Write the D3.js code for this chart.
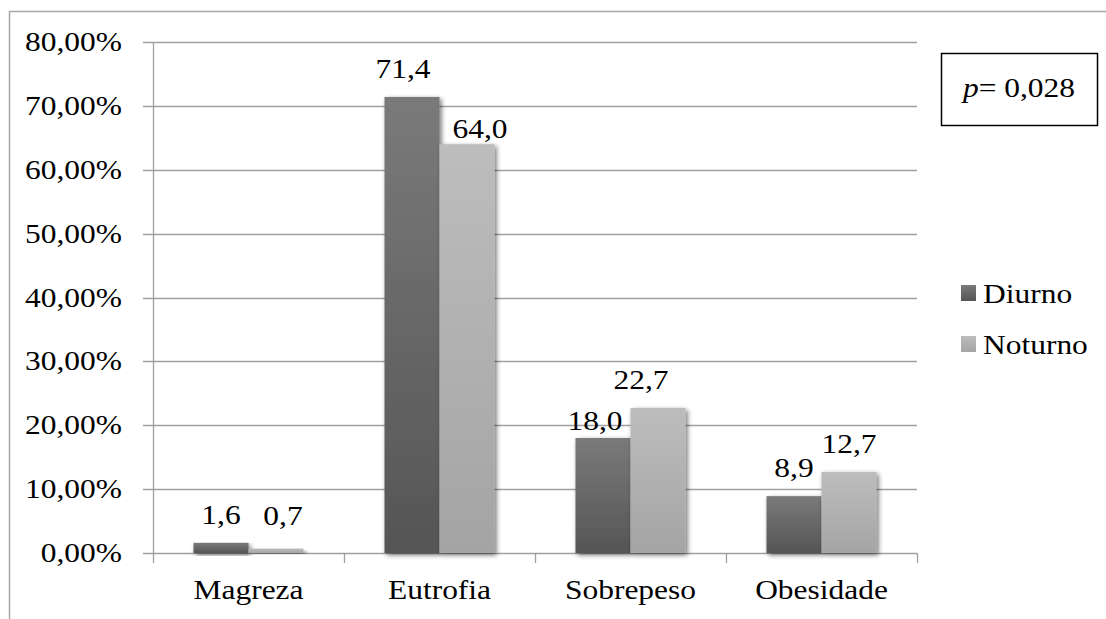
<!DOCTYPE html>
<html>
<head>
<meta charset="utf-8">
<script src="https://cdn.jsdelivr.net/npm/d3@7"></script>
<style>
  html, body { margin: 0; padding: 0; background: #fff; }
  svg { display: block; }
</style>
</head>
<body>
<svg id="chart" width="1106" height="619"></svg>
<script>
// Nutritional status by shift (percent)
const categories = ["Magreza", "Eutrofia", "Sobrepeso", "Obesidade"];
const seriesNames = ["Diurno", "Noturno"];
const diurno = [1.6, 71.4, 18.0, 8.9];
const noturno = [0.7, 64.0, 22.7, 12.7];
const yTicks = [0, 10, 20, 30, 40, 50, 60, 70, 80];
const pValue = "0,028";

// hand-placed label offsets (dx, dy) relative to the default spot above each bar
const labelNudge = {
  Diurno:  [[0, 0], [-9, 0], [-8, 11], [0, 0]],
  Noturno: [[7, -5], [13, 13], [-17, 0], [0, 0]]
};

const fmtTick = d => d3.format(".2f")(d).replace(".", ",") + "%";
const fmtVal = d => d3.format(".1f")(d).replace(".", ",");

// pick the first installed serif face from a preference list
const ctx = document.createElement("canvas").getContext("2d");
function installed(name) {
  const s = "Magreza 0123456789%";
  return ["monospace", "sans-serif"].every(fb => {
    ctx.font = `40px ${fb}`;
    const a = ctx.measureText(s).width;
    ctx.font = `40px "${name}", ${fb}`;
    return Math.abs(ctx.measureText(s).width - a) > 0.5;
  });
}
const serifCandidates = ["Liberation Serif", "Times New Roman", "Tinos", "Nimbus Roman", "Times", "DejaVu Serif"];
const FONT = serifCandidates.find(installed) || "serif";
const FAM = `"${FONT}", serif`;

// size from digit height, stretch from word width
ctx.font = `100px ${FAM}`;
const digitH = ctx.measureText("0").actualBoundingBoxAscent / 100;
const FS = 17.7 / digitH;
ctx.font = `${FS}px ${FAM}`;
const SX = 110 / ctx.measureText("Magreza").width;

const svg = d3.select("#chart").style("font-family", FAM);

const margin = { left: 153, right: 189, top: 42, bottom: 66 };
const W = 1106, H = 619;

const x0 = d3.scaleBand().domain(categories)
  .range([margin.left, W - margin.right]).paddingInner(0).paddingOuter(0);
const groupPad = 0.212;
const x1 = d3.scaleBand().domain(seriesNames)
  .range([x0.bandwidth() * groupPad, x0.bandwidth() * (1 - groupPad)]);
const y = d3.scaleLinear().domain([0, 80]).range([H - margin.bottom, margin.top]);

const defs = svg.append("defs");
function grad(id, top, bottom) {
  const g = defs.append("linearGradient").attr("id", id)
    .attr("x1", 0).attr("y1", 0).attr("x2", 0).attr("y2", 1);
  g.append("stop").attr("offset", "0%").attr("stop-color", top);
  g.append("stop").attr("offset", "100%").attr("stop-color", bottom);
}
grad("gDark", "#7a7a7a", "#555555");
grad("gLight", "#bdbdbd", "#a4a4a4");
const fill = { Diurno: "url(#gDark)", Noturno: "url(#gLight)" };

const sh = defs.append("filter").attr("id", "shadow")
  .attr("x", "-20%").attr("y", "-10%").attr("width", "140%").attr("height", "130%");
sh.append("feGaussianBlur").attr("in", "SourceAlpha").attr("stdDeviation", 2.5).attr("result", "b");
sh.append("feOffset").attr("in", "b").attr("dx", 1.5).attr("dy", 2).attr("result", "o");
sh.append("feComponentTransfer").attr("in", "o").attr("result", "s")
  .append("feFuncA").attr("type", "linear").attr("slope", 0.55);
const mg = sh.append("feMerge");
mg.append("feMergeNode").attr("in", "s");
mg.append("feMergeNode").attr("in", "SourceGraphic");

// outer chart-area frame
svg.append("path").attr("d", `M9.5,${H + 2} V11.5 H${W + 2}`)
  .attr("fill", "none").attr("stroke", "#a6a6a6").attr("stroke-width", 1.5);

// stretched text helper
function label(g, str, x, yy, anchor) {
  return g.append("text")
    .attr("transform", `translate(${x},${yy}) scale(${SX},1)`)
    .attr("text-anchor", anchor || "middle")
    .attr("font-family", FAM)
    .attr("font-size", FS)
    .attr("fill", "#000")
    .text(str);
}

// gridlines + y ticks
const grid = svg.append("g");
grid.selectAll("line").data(yTicks).join("line")
  .attr("x1", margin.left - 10).attr("x2", W - margin.right)
  .attr("y1", d => Math.round(y(d)) + 0.5).attr("y2", d => Math.round(y(d)) + 0.5)
  .attr("stroke", "#a0a0a0").attr("stroke-width", 1.3);

const yl = svg.append("g");
yTicks.forEach(d => label(yl, fmtTick(d), 122, y(d) + 9, "end"));

// y axis line
svg.append("line").attr("x1", margin.left + 0.5).attr("x2", margin.left + 0.5)
  .attr("y1", y(80)).attr("y2", y(0))
  .attr("stroke", "#a0a0a0").attr("stroke-width", 1.3);

// x axis ticks at category boundaries
const bounds = categories.map(c => x0(c)).concat([W - margin.right]);
svg.append("g").selectAll("line").data(bounds).join("line")
  .attr("x1", d => d + 0.5).attr("x2", d => d + 0.5)
  .attr("y1", y(0)).attr("y2", y(0) + 10)
  .attr("stroke", "#a0a0a0").attr("stroke-width", 1.3);

// category labels
const xl = svg.append("g");
categories.forEach(c => label(xl, c, x0(c) + x0.bandwidth() / 2, 599, "middle"));

// bars
const rows = categories.map((c, i) => ({ c, i, vals: [diurno[i], noturno[i]] }));
const groups = svg.append("g").selectAll("g").data(rows).join("g")
  .attr("transform", d => `translate(${x0(d.c)},0)`);
groups.selectAll("rect")
  .data(d => seriesNames.map((s, k) => ({ s, v: d.vals[k], i: d.i })))
  .join("rect")
  .attr("x", d => x1(d.s)).attr("width", x1.bandwidth())
  .attr("y", d => y(d.v)).attr("height", d => y(0) - y(d.v))
  .attr("fill", d => fill[d.s]).attr("filter", "url(#shadow)");

// value labels
const vl = svg.append("g");
rows.forEach(r => {
  seriesNames.forEach((s, k) => {
    const v = r.vals[k];
    const nd = labelNudge[s][r.i];
    const cx = x0(r.c) + x1(s) + x1.bandwidth() / 2 + nd[0];
    label(vl, fmtVal(v), cx, y(v) - 19 + nd[1], "middle");
  });
});

// legend
const lg = svg.append("g");
seriesNames.forEach((s, k) => {
  const yy = 285 + k * 51;
  lg.append("rect").attr("x", 961).attr("y", yy).attr("width", 15).attr("height", 16)
    .attr("fill", fill[s]);
  label(lg, s, 983, yy + 18, "start");
});

// p-value box
svg.append("rect").attr("x", 941.5).attr("y", 53.5).attr("width", 156).attr("height", 72)
  .attr("fill", "#fff").attr("stroke", "#000").attr("stroke-width", 1.5);
const pt = label(svg, "", 1019, 97, "middle");
pt.append("tspan").attr("font-style", "italic").text("p");
pt.append("tspan").text("= " + pValue);
</script>
</body>
</html>
